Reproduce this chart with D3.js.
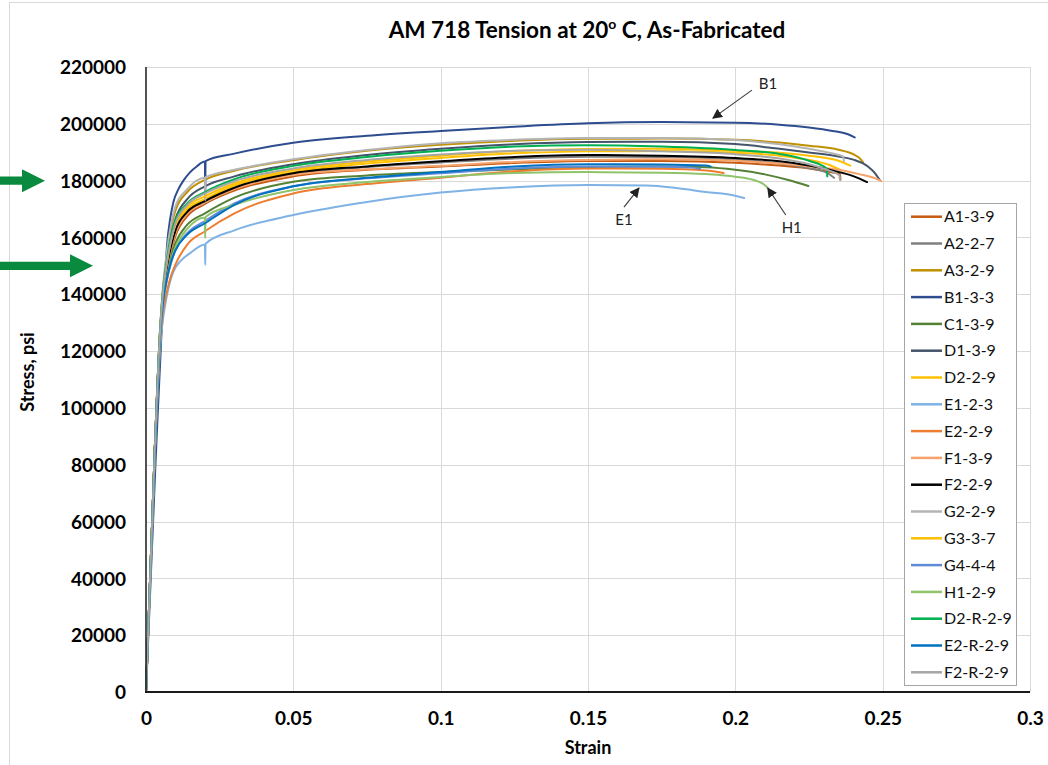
<!DOCTYPE html>
<html><head><meta charset="utf-8">
<script src="https://cdn.jsdelivr.net/npm/d3@7"></script>
<style>
html,body{margin:0;padding:0;background:#fff;}
svg{display:block;font-family:Lato,"Open Sans",sans-serif;}
</style></head>
<body><svg id="c" width="1048" height="765"></svg>
<script>
// ---------- DATA ----------
const chartTitle = "AM 718 Tension at 20";
const seriesNames = ["A1-3-9","A2-2-7","A3-2-9","B1-3-3","C1-3-9","D1-3-9","D2-2-9","E1-2-3","E2-2-9","F1-3-9","F2-2-9","G2-2-9","G3-3-7","G4-4-4","H1-2-9","D2-R-2-9","E2-R-2-9","F2-R-2-9"];
const xTicks = [0,0.05,0.1,0.15,0.2,0.25,0.3];
const yTicks = [0,20000,40000,60000,80000,100000,120000,140000,160000,180000,200000,220000];

// [strain, stress psi]
const A1_3_9 = [[0,0],[0.003,86000],[0.0047,124000],[0.0058,138000],[0.007,147000],[0.0085,155000],[0.01,160500],[0.014,167500],[0.02,171800],[0.03,176500],[0.05,181500],[0.075,183800],[0.1,185000],[0.125,186200],[0.15,186900],[0.175,186900],[0.2,186300],[0.215,185300],[0.225,184300],[0.233,182900],[0.2355,182300],[0.2357,180300]];
const A2_2_7 = [[0,0],[0.003,86000],[0.0047,125000],[0.0058,140000],[0.007,149000],[0.0085,157000],[0.01,162000],[0.014,168500],[0.02,172300],[0.03,177200],[0.05,182200],[0.075,184800],[0.1,186400],[0.125,187800],[0.15,188400],[0.175,188300],[0.2,187400],[0.215,186000],[0.225,184400],[0.231,182800],[0.2335,181000]];
const A3_2_9 = [[0,0],[0.003,86000],[0.0047,126000],[0.0058,142000],[0.007,153000],[0.0085,163000],[0.01,169500],[0.014,176000],[0.02,180300],[0.03,183500],[0.05,187200],[0.075,190500],[0.1,192600],[0.125,194000],[0.15,194700],[0.175,194800],[0.2,194400],[0.215,193400],[0.225,192300],[0.235,190900],[0.24,189300],[0.2425,187600],[0.2433,186500]];
const B1_3_3 = [[0,0],[0.0032,80000],[0.0052,125000],[0.0064,145000],[0.0072,158000],[0.0082,166500],[0.0093,172500],[0.011,177000],[0.0127,180000],[0.015,183000],[0.0172,185000],[0.02,186700],[0.0201,172000],[0.0202,186900],[0.03,189500],[0.05,193300],[0.075,195800],[0.1,197500],[0.125,199000],[0.15,200200],[0.175,200600],[0.2,200400],[0.215,199700],[0.225,198700],[0.233,197500],[0.238,196400],[0.2405,195200]];
const C1_3_9 = [[0,0],[0.003,86000],[0.0047,124500],[0.0058,139000],[0.007,146500],[0.0085,153500],[0.01,158000],[0.014,164500],[0.02,168500],[0.03,174000],[0.05,179600],[0.075,181800],[0.1,183000],[0.125,184000],[0.15,184800],[0.175,185000],[0.19,184700],[0.2,183800],[0.21,182200],[0.218,180200],[0.2248,178100]];
const D1_3_9 = [[0,0],[0.003,86000],[0.0047,125500],[0.0058,141000],[0.007,151000],[0.0085,160500],[0.01,166500],[0.014,173500],[0.02,178000],[0.03,181500],[0.05,185800],[0.075,189000],[0.1,191200],[0.125,192800],[0.15,193600],[0.175,193700],[0.2,192900],[0.215,191200],[0.225,189900],[0.235,188500],[0.24,187400],[0.245,185000],[0.2475,182500],[0.249,180200]];
const D2_2_9 = [[0,0],[0.003,86000],[0.0047,125000],[0.0058,140500],[0.007,149500],[0.0085,158000],[0.01,163500],[0.014,169800],[0.02,173500],[0.03,178300],[0.05,183000],[0.075,186000],[0.1,188000],[0.125,189600],[0.15,190300],[0.175,190400],[0.2,189800],[0.215,188800],[0.225,187300],[0.232,185500],[0.236,183500]];
const E1_2_3 = [[0,0],[0.003,84000],[0.0048,121000],[0.0056,130000],[0.0064,135600],[0.0078,143000],[0.0093,148000],[0.012,152000],[0.015,154500],[0.02,157500],[0.0201,150300],[0.0202,157800],[0.03,162500],[0.05,167900],[0.075,172500],[0.1,175800],[0.125,177700],[0.15,178500],[0.17,178300],[0.18,177400],[0.19,176000],[0.2,174700],[0.203,173900]];
const E2_2_9 = [[0,0],[0.003,85000],[0.0047,122000],[0.0058,134000],[0.007,140500],[0.0085,146500],[0.01,150500],[0.014,157500],[0.02,162200],[0.03,168500],[0.05,175500],[0.075,178800],[0.1,181000],[0.125,183300],[0.15,184300],[0.175,184200],[0.19,183600],[0.196,182700]];
const F1_3_9 = [[0,0],[0.003,86000],[0.0047,124500],[0.0058,139500],[0.007,148000],[0.0085,156000],[0.01,161500],[0.014,168300],[0.02,172300],[0.03,177000],[0.05,182000],[0.075,184000],[0.1,185200],[0.125,186600],[0.15,187300],[0.175,187500],[0.2,187000],[0.215,186000],[0.225,185000],[0.235,183800],[0.242,182300],[0.247,181000],[0.2495,179800]];
const F2_2_9 = [[0,0],[0.003,86000],[0.0047,125000],[0.0058,140000],[0.007,149000],[0.0085,157000],[0.01,162500],[0.014,169000],[0.02,172800],[0.03,177500],[0.05,182600],[0.075,185000],[0.1,186800],[0.125,188300],[0.15,189000],[0.175,188800],[0.2,188000],[0.215,186800],[0.225,185300],[0.232,183800],[0.24,181600],[0.2447,179500]];
const G2_2_9 = [[0,0],[0.003,86000],[0.0047,126500],[0.0058,143000],[0.007,154500],[0.0085,164500],[0.01,171000],[0.014,177000],[0.02,181000],[0.0201,173000],[0.0202,181200],[0.03,183800],[0.05,187500],[0.075,190800],[0.1,193200],[0.125,194400],[0.15,195000],[0.175,195000],[0.2,194300],[0.215,192800],[0.225,191200],[0.2345,189200],[0.2366,188500],[0.2368,186800]];
const G3_3_7 = [[0,0],[0.003,86000],[0.0047,125500],[0.0058,141000],[0.007,150500],[0.0085,159000],[0.01,164500],[0.014,170800],[0.02,174500],[0.03,179000],[0.05,183700],[0.075,186700],[0.1,188800],[0.125,190400],[0.15,191100],[0.175,191200],[0.2,190500],[0.215,189800],[0.225,188800],[0.235,187000],[0.239,185300]];
const G4_4_4 = [[0,0],[0.003,85500],[0.0047,123500],[0.0058,137000],[0.007,144500],[0.0085,151000],[0.01,155500],[0.014,161500],[0.02,165800],[0.03,172000],[0.05,178000],[0.075,180800],[0.1,182600],[0.125,184300],[0.15,185000],[0.175,184900],[0.185,184600],[0.188,184200]];
const H1_2_9 = [[0,0],[0.003,85500],[0.0047,123500],[0.0058,137500],[0.007,145000],[0.0085,152000],[0.01,156500],[0.014,163000],[0.02,167000],[0.0201,159800],[0.0202,167200],[0.03,171500],[0.05,176700],[0.075,179500],[0.1,181300],[0.125,182700],[0.15,183000],[0.175,182800],[0.19,182300],[0.2,181400],[0.206,180300],[0.2095,178800],[0.211,177400]];
const D2_R_2_9 = [[0,0],[0.003,86000],[0.0047,126000],[0.0058,142000],[0.007,151500],[0.0085,160500],[0.01,166000],[0.014,172000],[0.02,176000],[0.03,180500],[0.05,185200],[0.075,188300],[0.1,190500],[0.125,192000],[0.15,192500],[0.175,192000],[0.2,190800],[0.215,189400],[0.225,187000],[0.231,184300],[0.2312,181500]];
const E2_R_2_9 = [[0,0],[0.003,85500],[0.0047,124000],[0.0058,137500],[0.007,145000],[0.0085,151500],[0.01,155500],[0.014,161000],[0.02,165000],[0.03,171500],[0.05,178000],[0.075,181000],[0.1,183000],[0.125,185000],[0.15,185800],[0.175,185700],[0.19,185300],[0.1916,185000]];
const F2_R_2_9 = [[0,0],[0.003,86000],[0.0047,125500],[0.0058,141000],[0.007,150500],[0.0085,159000],[0.01,165000],[0.014,171500],[0.02,175500],[0.03,179800],[0.05,184300],[0.075,187300],[0.1,189200],[0.125,190500],[0.15,190900],[0.175,190300],[0.2,189300],[0.215,187800],[0.225,185800],[0.232,183500],[0.2353,181900],[0.2355,180300]];

const seriesData = [A1_3_9,A2_2_7,A3_2_9,B1_3_3,C1_3_9,D1_3_9,D2_2_9,E1_2_3,E2_2_9,F1_3_9,F2_2_9,G2_2_9,G3_3_7,G4_4_4,H1_2_9,D2_R_2_9,E2_R_2_9,F2_R_2_9];

// annotations: label, pointed data point [strain, stress]
const calloutLabels = ["B1","E1","H1"];
const calloutPoints = [[0.1924,202000],[0.1673,177400],[0.211,177400]];
// highlighted stress levels (green arrows)
const markerStress = [180000,150000];

// ---------- STYLES ----------
const seriesColors = ["#C55A11","#7F7F7F","#BF9000","#2E4D8F","#548235","#44546A","#FFC000","#7FB2E5","#ED7D31","#F5A26B","#000000","#B4B4B4","#FFC000","#5F8BD6","#8FC46A","#00B050","#0070C0","#A6A6A6"];

const svg = d3.select("#c");
const x = d3.scaleLinear().domain([0,0.3]).range([146,1030]);
const y = d3.scaleLinear().domain([0,220000]).range([692,67]);

// chart border
svg.append("rect").attr("x",9.5).attr("y",2.5).attr("width",1050).attr("height",780)
  .attr("fill","none").attr("stroke","#d9d9d9").attr("stroke-width",1);

// gridlines
svg.append("g").selectAll("line").data(yTicks.filter(d=>d>0)).join("line")
  .attr("x1",x(0)).attr("x2",x(0.3)).attr("y1",d=>Math.round(y(d))+0.5).attr("y2",d=>Math.round(y(d))+0.5)
  .attr("stroke","#d9d9d9").attr("stroke-width",1);
svg.append("g").selectAll("line").data(xTicks.filter(d=>d>0)).join("line")
  .attr("y1",y(0)).attr("y2",y(220000)).attr("x1",d=>Math.round(x(d))+0.5).attr("x2",d=>Math.round(x(d))+0.5)
  .attr("stroke","#d9d9d9").attr("stroke-width",1);

// axes
const yAxis = d3.axisLeft(y).tickValues(yTicks).tickSize(0).tickPadding(20).tickFormat(d3.format("d"));
const xAxis = d3.axisBottom(x).tickValues(xTicks).tickSize(0).tickPadding(20).tickFormat(d=>d===0?"0":String(d));
const gy = svg.append("g").attr("transform",`translate(${x(0)},0)`).call(yAxis);
const gx = svg.append("g").attr("transform",`translate(0,${y(0)})`).call(xAxis);
[gy,gx].forEach(g=>{
  g.select(".domain").remove();
  g.selectAll("text").attr("font-family","Lato").attr("font-weight","bold").attr("font-size",19).attr("fill","#000");
});
gy.selectAll("text").attr("dy","0.35em");
gx.selectAll("text").attr("dy","0.71em");

// series lines
const line = d3.line().x(d=>x(d[0])).y(d=>y(d[1])).curve(d3.curveMonotoneX);
svg.append("g").attr("fill","none").selectAll("path").data(seriesData).join("path")
  .attr("d",line).attr("stroke",(d,i)=>seriesColors[i]).attr("stroke-width",2)
  .attr("stroke-linejoin","round").attr("stroke-linecap","round");

// axis lines
svg.append("line").attr("x1",x(0)).attr("x2",x(0)).attr("y1",y(220000)).attr("y2",y(0))
  .attr("stroke","#1a1a1a").attr("stroke-width",1.5);
svg.append("line").attr("x1",x(0)-1).attr("x2",x(0.3)).attr("y1",y(0)).attr("y2",y(0))
  .attr("stroke","#1a1a1a").attr("stroke-width",2);

// title
const t = svg.append("text").attr("x",587).attr("y",38).attr("text-anchor","middle")
  .attr("font-family","Lato").attr("font-weight","bold").attr("font-size",22.5).attr("fill","#000");
t.append("tspan").text(chartTitle);
t.append("tspan").attr("font-size",14).attr("dy",-9).text("o");
t.append("tspan").attr("dy",9).text(" C, As-Fabricated");

// axis titles
svg.append("text").attr("x",588).attr("y",754).attr("text-anchor","middle")
  .attr("font-family","Lato").attr("font-weight","bold").attr("font-size",18).text("Strain");
svg.append("text").attr("transform","translate(34,372) rotate(-90)").attr("text-anchor","middle")
  .attr("font-family","Lato").attr("font-weight","bold").attr("font-size",18).text("Stress, psi");

// callouts
const defs = svg.append("defs");
defs.append("marker").attr("id","ah").attr("viewBox","0 0 10 10").attr("refX",9).attr("refY",5)
  .attr("markerWidth",10).attr("markerHeight",10).attr("markerUnits","userSpaceOnUse").attr("orient","auto")
  .append("path").attr("d","M0,0 L10,5 L0,10 z").attr("fill","#222");
const calloutOffsets = [[39,-28],[-15,19],[18,27]];
const labelOffsets = [[55,-34],[-15,32],[24,39.5]];
calloutPoints.forEach((p,i)=>{
  const tx=x(p[0]), ty=y(p[1]);
  svg.append("line").attr("x1",tx+calloutOffsets[i][0]).attr("y1",ty+calloutOffsets[i][1])
    .attr("x2",tx).attr("y2",ty).attr("stroke","#404040").attr("stroke-width",1.2).attr("marker-end","url(#ah)");
  svg.append("text").attr("x",tx+labelOffsets[i][0]).attr("y",ty+labelOffsets[i][1]).attr("dy","0.35em")
    .attr("text-anchor","middle").attr("font-family","Lato").attr("font-size",15).attr("fill","#222").text(calloutLabels[i]);
});

// green arrows
const arrowTips = [45,93];
markerStress.forEach((s,i)=>{
  const yy=y(s), tip=arrowTips[i], base=tip-23;
  svg.append("path").attr("fill","#0A8A3E")
    .attr("d",`M0,${yy-4.2} L${base},${yy-4.2} L${base},${yy-11.5} L${tip},${yy} L${base},${yy+11.5} L${base},${yy+4.2} L0,${yy+4.2} Z`);
});

// legend
const lg = svg.append("g");
lg.append("rect").attr("x",904.5).attr("y",203.5).attr("width",112).attr("height",482)
  .attr("fill","#fff").attr("stroke","#a6a6a6").attr("stroke-width",1);
seriesNames.forEach((n,i)=>{
  const yy = 216.7 + i*26.8;
  lg.append("line").attr("x1",911).attr("x2",942).attr("y1",yy).attr("y2",yy)
    .attr("stroke",seriesColors[i]).attr("stroke-width",2.5);
  lg.append("text").attr("x",944).attr("y",yy).attr("dy","0.36em").attr("font-family","Lato")
    .attr("font-size",16).attr("fill","#111").text(n);
});
</script></body></html>
